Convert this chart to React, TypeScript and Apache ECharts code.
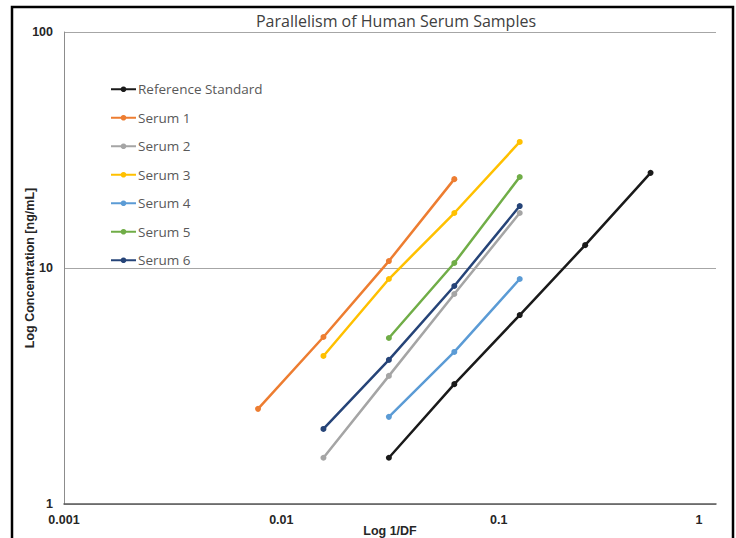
import React, { useEffect, useRef } from "react";
import * as echarts from "echarts";

const seriesNames = ["Reference Standard", "Serum 1", "Serum 2", "Serum 3", "Serum 4", "Serum 5", "Serum 6"];
const seriesColors = ["#1a1a1a", "#ED7D31", "#A5A5A5", "#FFC000", "#5B9BD5", "#70AD47", "#264478"];

const refX = [0.03125, 0.0625, 0.125, 0.25, 0.5];
const refY = [1.57, 3.22, 6.32, 12.5, 25.3];
const s1X = [0.0078125, 0.015625, 0.03125, 0.0625];
const s1Y = [2.53, 5.1, 10.7, 23.8];
const s2X = [0.015625, 0.03125, 0.0625, 0.125];
const s2Y = [1.57, 3.49, 7.76, 17.1];
const s3X = [0.015625, 0.03125, 0.0625, 0.125];
const s3Y = [4.24, 8.98, 17.1, 34.2];
const s4X = [0.03125, 0.0625, 0.125];
const s4Y = [2.34, 4.41, 8.98];
const s5X = [0.03125, 0.0625, 0.125];
const s5Y = [5.05, 10.5, 24.3];
const s6X = [0.015625, 0.03125, 0.0625, 0.125];
const s6Y = [2.08, 4.08, 8.39, 18.3];

const xTickLabels = ["0.001", "0.01", "0.1", "1"];
const yTickLabels = ["1", "10", "100"];

const allX = [refX, s1X, s2X, s3X, s4X, s5X, s6X];
const allY = [refY, s1Y, s2Y, s3Y, s4Y, s5Y, s6Y];

export default function App() {
  const ref = useRef<HTMLDivElement>(null);
  useEffect(() => {
    if (!ref.current) return;
    const chart = echarts.init(ref.current, undefined, { renderer: "svg" });
    const series = seriesNames.map((name, i) => ({
      name,
      type: "line",
      data: allX[i].map((x, j) => [x, allY[i][j]]),
      symbol: "circle",
      symbolSize: 6,
      lineStyle: { color: seriesColors[i], width: 2.5 },
      itemStyle: { color: seriesColors[i] },
    }));
    const lbl = { fontFamily: "Liberation Sans", fontSize: 12.5, fontWeight: "bold", color: "#262626" };
    chart.setOption({
      animation: false,
      title: {
        text: "Parallelism of Human Serum Samples",
        left: 391,
        top: 8,
        textAlign: "center",
        textStyle: { fontFamily: "Open Sans", fontSize: 16, fontWeight: "normal", color: "#404040" },
      },
      legend: {
        orient: "vertical",
        left: 105,
        top: 76,
        itemWidth: 25,
        itemHeight: 7,
        itemGap: 12,
        textStyle: { fontFamily: "Open Sans", fontSize: 13.5, color: "#595959", padding: [0, 0, 0, -3], lineHeight: 16.5 },
        data: seriesNames,
      },
      grid: { left: 64, right: 20, top: 32, bottom: 34, outerBoundsMode: "none", containLabel: false },
      xAxis: {
        type: "log",
        logBase: 10,
        min: 0.001,
        max: 1,
        name: "Log 1/DF",
        nameLocation: "middle",
        nameGap: 20,
        nameMoveOverlap: false,
        nameTextStyle: lbl,
        axisLine: { show: true, lineStyle: { color: "#595959", width: 1.5 } },
        axisTick: { show: false },
        splitLine: { show: false },
        axisLabel: {
          margin: 9,
          ...lbl,
          formatter: (v: number) => {
            const idx = Math.round(Math.log10(v)) + 3;
            const t = xTickLabels[idx] ?? String(v);
            return idx === 3 ? "{last|" + t + "}" : t;
          },
          rich: {
            last: { ...lbl, padding: [0, 34, 0, 0] },
          },
        },
      },
      yAxis: {
        type: "log",
        logBase: 10,
        min: 1,
        max: 100,
        name: "Log Concentration [ng/mL]",
        nameLocation: "middle",
        nameGap: 28,
        nameMoveOverlap: false,
        nameTextStyle: lbl,
        axisLine: { show: true, lineStyle: { color: "#8c8c8c", width: 1 } },
        axisTick: { show: false },
        splitLine: { show: true, lineStyle: { color: "#a6a6a6", width: 1 } },
        axisLabel: {
          margin: 11,
          ...lbl,
          formatter: (v: number) => {
            const idx = Math.round(Math.log10(v));
            return yTickLabels[idx] ?? String(v);
          },
        },
      },
      graphic: [
        {
          type: "rect",
          shape: { x: 12, y: 7, width: 721, height: 560 },
          style: { fill: "none", stroke: "#000", lineWidth: 2.5 },
          silent: true,
        },
      ],
      series,
    });
    return () => chart.dispose();
  }, []);
  return (
    <div
      ref={ref}
      style={{ position: "fixed", left: 0, top: 0, width: 736, height: 538, background: "#fff" }}
    />
  );
}
